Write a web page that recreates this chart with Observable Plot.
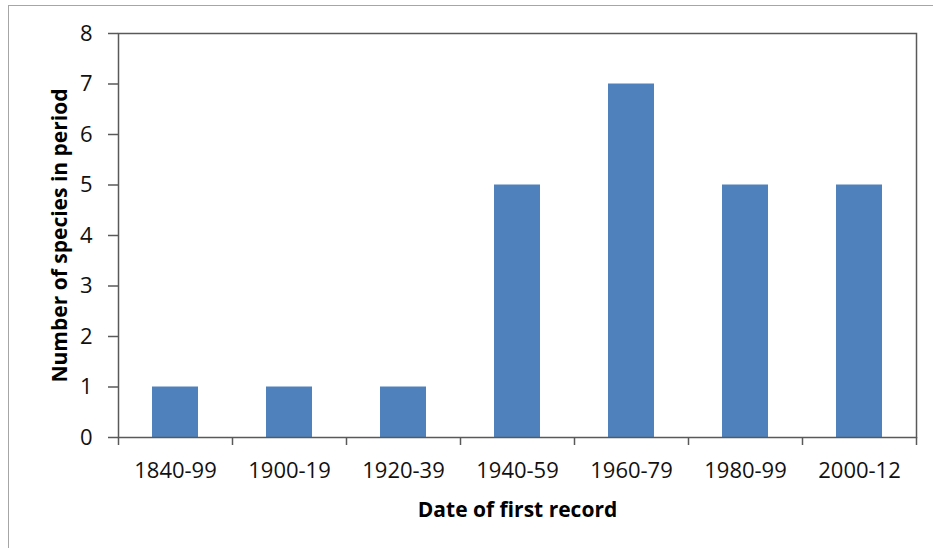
<!DOCTYPE html>
<html>
<head>
<meta charset="utf-8">
<script src="https://cdn.jsdelivr.net/npm/d3@7"></script>
<script src="https://cdn.jsdelivr.net/npm/@observablehq/plot@0.6"></script>
<style>
  html, body { margin: 0; padding: 0; background: #fff; }
  #wrap { position: relative; width: 933px; height: 548px; overflow: hidden; }
  #border { position: absolute; left: 8px; top: 5px; right: -2px; bottom: -2px;
            border-top: 1.5px solid #a6a6a6; border-left: 1.5px solid #a6a6a6; pointer-events: none; }
</style>
</head>
<body>
<div id="wrap"><div id="border"></div></div>
<script>
const categories = ["1840-99", "1900-19", "1920-39", "1940-59", "1960-79", "1980-99", "2000-12"];
const counts = [1, 1, 1, 5, 7, 5, 5];
const yTicks = [0, 1, 2, 3, 4, 5, 6, 7, 8];
const xTitle = "Date of first record";
const yTitle = "Number of species in period";

const data = categories.map((c, i) => ({period: c, count: counts[i]}));
const band = (933 - 118 - 17) / categories.length;

const chart = Plot.plot({
  width: 933,
  height: 548,
  marginLeft: 118,
  marginRight: 17,
  marginTop: 33,
  marginBottom: 111,
  x: {domain: categories, padding: 0},
  y: {domain: [0, 8]},
  style: {fontFamily: "'Open Sans', sans-serif", fontSize: "22px", color: "#000", background: "transparent"},
  marks: [
    Plot.barY(data, {x: "period", y: "count", fill: "#4F81BD", insetLeft: 34, insetRight: 34}),
    Plot.frame({stroke: "#595959", strokeWidth: 1.5}),
    Plot.axisY({ticks: yTicks, tickSize: 10, tickPadding: 16, label: null, stroke: "#595959", strokeWidth: 1.5, fill: "#111"}),
    Plot.axisX({tickSize: 8, dx: -band / 2, tickFormat: () => "", label: null, stroke: "#595959", strokeWidth: 1.5}),
    Plot.axisX({ticks: [categories[categories.length - 1]], tickSize: 8, dx: band / 2, tickFormat: () => "", label: null, stroke: "#595959", strokeWidth: 1.5}),
    Plot.axisX({tickSize: 0, tickPadding: 25, label: null, fill: "#111"}),
    Plot.text([yTitle], {frameAnchor: "left", textAnchor: "middle", rotate: -90, dx: -58, fontWeight: "bold", fontSize: 21, fill: "#000"}),
    Plot.text([xTitle], {frameAnchor: "bottom", dy: 79, fontWeight: "bold", fontSize: 21, fill: "#000"})
  ]
});
document.getElementById("wrap").prepend(chart);
</script>
</body>
</html>
